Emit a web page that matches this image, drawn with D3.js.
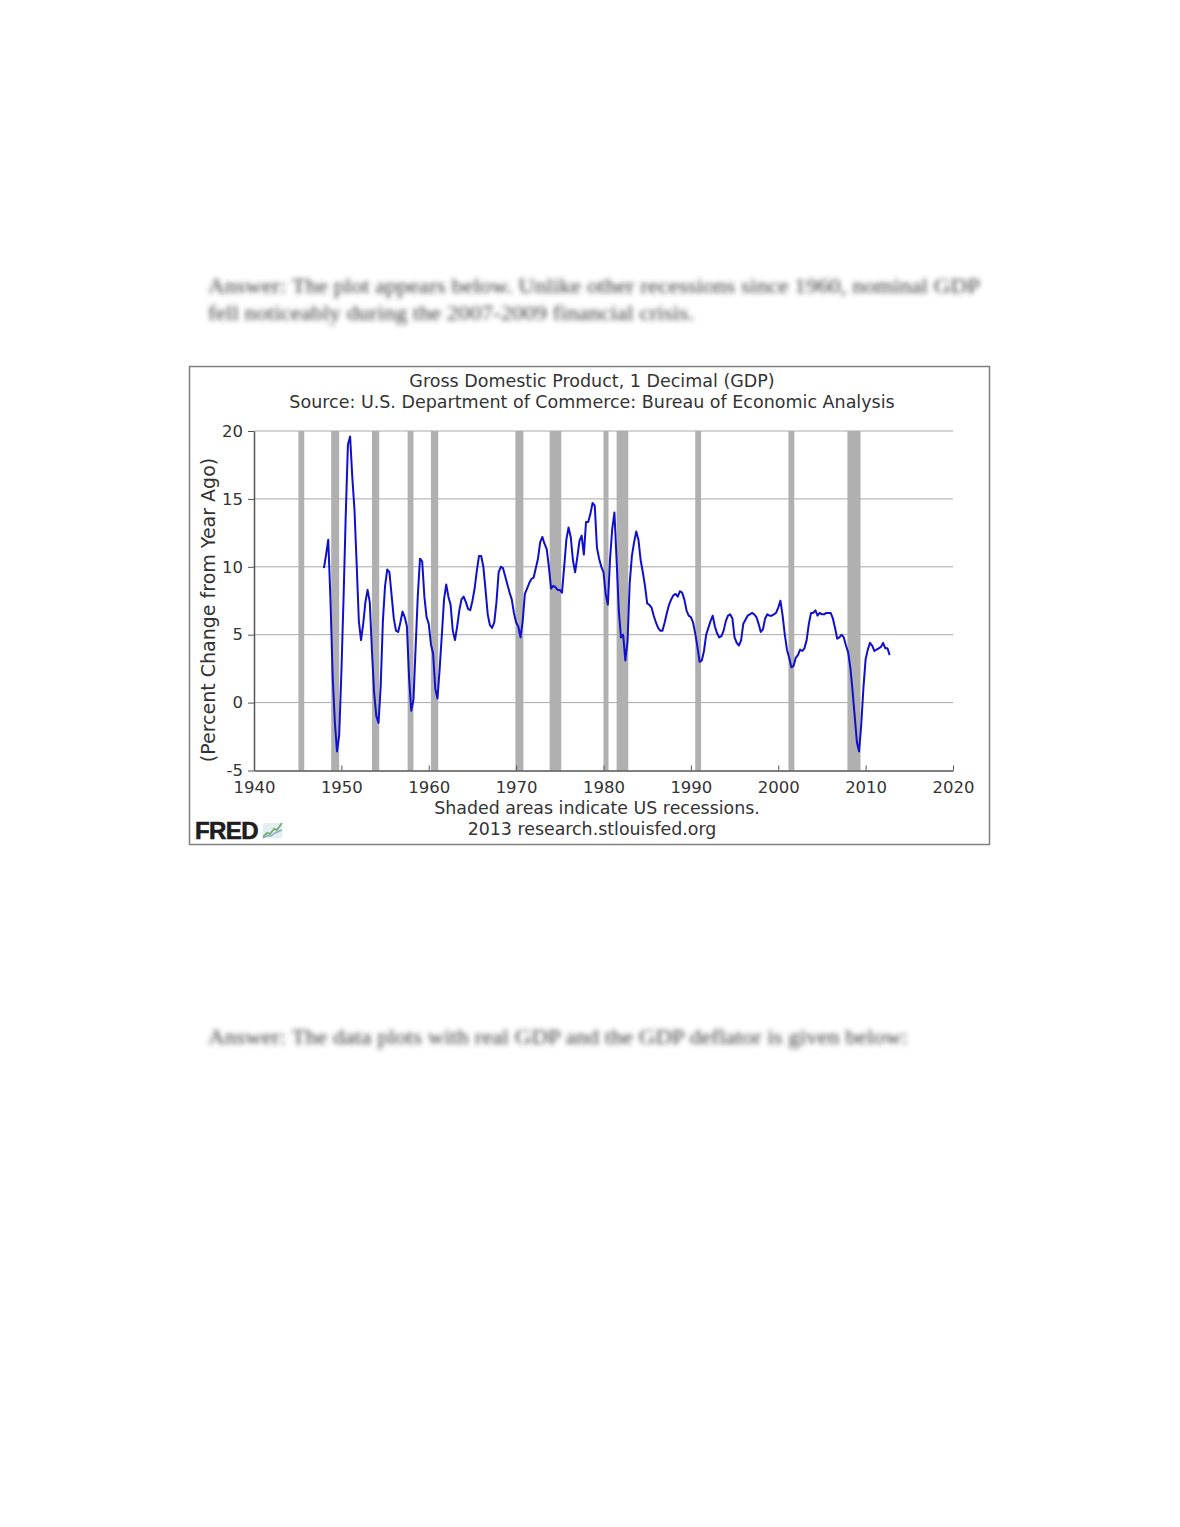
<!DOCTYPE html>
<html>
<head>
<meta charset="utf-8">
<script src="https://cdn.jsdelivr.net/npm/d3@7"></script>
<style>
  body { margin: 0; background: #ffffff; }
  svg text { font-family: "DejaVu Sans", Verdana, sans-serif; }
</style>
</head>
<body>
<script>
'use strict';

// GDP, percent change from year ago, quarterly from 1948Q1
const firstYear = 1948;
const gdpChange = [
  9.9, 10.9, 12.0, 7.6,    2.0, -1.4, -3.6, -2.4,   // 1948-49
  2.2, 7.7, 13.8, 19.0,    19.6, 16.6, 14.2, 10.2,  // 1950-51
  6.0, 4.6, 5.8, 7.4,      8.3, 7.4, 3.8, 0.7,      // 1952-53
  -1.0, -1.5, 1.2, 6.0,    8.6, 9.8, 9.6, 7.9,      // 1954-55
  6.2, 5.3, 5.2, 5.9,      6.7, 6.3, 5.6, 1.8,      // 1956-57
  -0.6, 0.2, 4.1, 7.9,     10.6, 10.4, 7.8, 6.3,    // 1958-59
  5.8, 4.3, 3.6, 1.0,      0.3, 2.5, 5.0, 7.6,      // 1960-61
  8.7, 7.8, 7.2, 5.3,      4.6, 5.6, 6.8, 7.6,      // 1962-63
  7.8, 7.4, 6.9, 6.8,      7.5, 8.4, 9.7, 10.8,     // 1964-65
  10.8, 10.0, 8.3, 6.5,    5.7, 5.5, 5.9, 7.4,      // 1966-67
  9.6, 10.0, 9.9, 9.3,     8.7, 8.1, 7.6, 6.6,      // 1968-69
  5.9, 5.6, 4.8, 6.0,      8.0, 8.4, 8.8, 9.1,      // 1970-71
  9.2, 9.9, 10.6, 11.8,    12.2, 11.7, 11.3, 10.0,  // 1972-73
  8.4, 8.6, 8.5, 8.3,      8.3, 8.1, 10.0, 12.0,    // 1974-75
  12.9, 12.2, 10.5, 9.6,   10.7, 11.9, 12.3, 10.9,  // 1976-77
  13.3, 13.3, 13.9, 14.7,  14.5, 11.4, 10.6, 10.0,  // 1978-79
  9.6, 8.0, 7.2, 10.6,     12.8, 14.0, 10.5, 6.8,   // 1980-81
  4.8, 5.0, 3.1, 4.5,      8.8, 10.8, 11.8, 12.6,   // 1982-83
  12.0, 10.5, 9.6, 8.6,    7.3, 7.2, 7.0, 6.4,      // 1984-85
  5.9, 5.5, 5.3, 5.3,      5.9, 6.6, 7.2, 7.6,      // 1986-87
  7.9, 8.0, 7.8, 8.2,      8.1, 7.6, 6.8, 6.4,      // 1988-89
  6.3, 5.9, 5.1, 4.1,      3.0, 3.1, 3.8, 5.0,      // 1990-91
  5.5, 6.0, 6.4, 5.6,      5.1, 4.8, 4.9, 5.3,      // 1992-93
  6.0, 6.4, 6.5, 6.2,      4.8, 4.4, 4.2, 4.6,      // 1994-95
  5.8, 6.1, 6.4, 6.5,      6.6, 6.5, 6.3, 5.8,      // 1996-97
  5.2, 5.4, 6.2, 6.5,      6.4, 6.4, 6.5, 6.6,      // 1998-99
  7.0, 7.5, 6.4, 5.0,      3.9, 3.3, 2.6, 2.7,      // 2000-01
  3.3, 3.5, 3.9, 3.8,      4.0, 4.6, 5.8, 6.6,      // 2002-03
  6.6, 6.8, 6.4, 6.6,      6.5, 6.5, 6.6, 6.6,      // 2004-05
  6.6, 6.2, 5.5, 4.7,      4.8, 5.0, 4.8, 4.2,      // 2006-07
  3.7, 2.6, 0.9, -1.0,     -2.9, -3.6, -1.6, 1.1,   // 2008-09
  3.2, 3.9, 4.4, 4.2,      3.8, 3.9, 4.0, 4.1,      // 2010-11
  4.4, 4.0, 4.0, 3.5                                // 2012
];

// NBER recessions, peak month to trough month
const recessionStart = ['1945-02', '1948-11', '1953-07', '1957-08', '1960-04', '1969-12',
                        '1973-11', '1980-01', '1981-07', '1990-07', '2001-03', '2007-12'];
const recessionEnd   = ['1945-10', '1949-10', '1954-05', '1958-04', '1961-02', '1970-11',
                        '1975-03', '1980-07', '1982-11', '1991-03', '2001-11', '2009-06'];

const xTicks = [1940, 1950, 1960, 1970, 1980, 1990, 2000, 2010, 2020];
const yTicks = [-5, 0, 5, 10, 15, 20];

const titleLines = ['Gross Domestic Product, 1 Decimal (GDP)',
                    'Source: U.S. Department of Commerce: Bureau of Economic Analysis'];
const footLines = ['Shaded areas indicate US recessions.', '2013 research.stlouisfed.org'];
const yLabel = '(Percent Change from Year Ago)';

const W = 1180, H = 1527;
const plot = { left: 254, right: 953, top: 431, bottom: 770.5 };

const svg = d3.select('body').append('svg')
  .attr('width', W).attr('height', H)
  .attr('viewBox', `0 0 ${W} ${H}`);
svg.append('rect').attr('width', W).attr('height', H).attr('fill', '#ffffff');

// blurred page text around the figure
const defs = svg.append('defs');
defs.append('filter').attr('id', 'blur')
  .attr('x', '-5%').attr('y', '-50%').attr('width', '110%').attr('height', '200%')
  .append('feGaussianBlur').attr('stdDeviation', 2.4);

const pageText = [
  { t: 'Answer: The plot appears below. Unlike other recessions since 1960, nominal GDP', y: 293, w: 772 },
  { t: 'fell noticeably during the 2007-2009 financial crisis.', y: 320, w: 486 },
  { t: 'Answer: The data plots with real GDP and the GDP deflator is given below:', y: 1044, w: 700 }
];
svg.append('g').attr('filter', 'url(#blur)')
  .selectAll('text').data(pageText).join('text')
  .attr('x', 208).attr('y', d => d.y)
  .attr('textLength', d => d.w).attr('lengthAdjust', 'spacingAndGlyphs')
  .style('font-family', '"Liberation Serif", "Times New Roman", serif')
  .style('font-size', '20px')
  .attr('fill', '#3a3a3a')
  .text(d => d.t);

// figure frame
svg.append('rect')
  .attr('x', 189.5).attr('y', 366.5).attr('width', 800).attr('height', 478)
  .attr('fill', '#ffffff').attr('stroke', '#808080').attr('stroke-width', 1.5);

const x = d3.scaleLinear().domain([1940, 2020]).range([plot.left, plot.right]);
const y = d3.scaleLinear().domain([-5, 20]).range([plot.bottom, plot.top]);

const toYear = s => { const [yy, mm] = s.split('-').map(Number); return yy + (mm - 1) / 12; };
const recessions = recessionStart.map((s, i) => ({ a: toYear(s), b: toYear(recessionEnd[i]) }));
const series = gdpChange.map((v, i) => ({ t: firstYear + i / 4, v }));

// grid
svg.append('g').selectAll('line').data(yTicks.filter(v => v > -5)).join('line')
  .attr('x1', plot.left).attr('x2', plot.right)
  .attr('y1', d => y(d)).attr('y2', d => y(d))
  .attr('stroke', '#a8a8a8').attr('stroke-width', 1);

// recession shading
svg.append('g').selectAll('rect').data(recessions).join('rect')
  .attr('x', d => x(d.a)).attr('width', d => Math.max(x(d.b) - x(d.a), 5))
  .attr('y', plot.top).attr('height', plot.bottom - plot.top)
  .attr('fill', '#b0b0b0');

// axes
const axisY = svg.append('g').attr('transform', `translate(${plot.left},0)`)
  .call(d3.axisLeft(y).tickValues(yTicks).tickFormat(d => String(d))
    .tickSize(6).tickSizeOuter(0).tickPadding(5));
const axisX = svg.append('g').attr('transform', `translate(0,${plot.bottom})`)
  .call(d3.axisBottom(x).tickValues(xTicks).tickFormat(d => String(d))
    .tickSize(-5).tickSizeOuter(0).tickPadding(11));
[axisY, axisX].forEach(g => {
  g.select('.domain').attr('stroke', '#555555').attr('stroke-width', 1.5);
  g.selectAll('.tick line').attr('stroke', '#555555');
  g.selectAll('.tick text').attr('fill', '#333333')
    .style('font-family', '"DejaVu Sans", Verdana, sans-serif').style('font-size', '16.5px');
});

// data line
svg.append('path').datum(series)
  .attr('fill', 'none').attr('stroke', '#1010cc').attr('stroke-width', 2)
  .attr('stroke-linejoin', 'round')
  .attr('d', d3.line().x(d => x(d.t)).y(d => y(d.v)));

// titles and notes
svg.append('g').selectAll('text').data(titleLines).join('text')
  .attr('x', 592).attr('y', (d, i) => 387 + i * 21)
  .attr('text-anchor', 'middle').attr('fill', '#333333').style('font-size', '17.5px')
  .text(d => d);
svg.append('g').selectAll('text').data(footLines).join('text')
  .attr('x', (d, i) => i ? 592 : 597).attr('y', (d, i) => 814 + i * 21)
  .attr('text-anchor', 'middle').attr('fill', '#333333').style('font-size', '17.4px')
  .text(d => d);
svg.append('text')
  .attr('transform', `translate(215,610) rotate(-90)`)
  .attr('text-anchor', 'middle').attr('fill', '#333333').style('font-size', '19px')
  .text(yLabel);

// FRED mark
const logo = svg.append('g');
logo.append('text').attr('x', 195).attr('y', 839)
  .style('font-family', '"Liberation Sans", Arial, sans-serif').style('font-weight', 'bold')
  .style('font-size', '24px').attr('letter-spacing', -0.6).attr('fill', '#1e1e1e')
  .attr('stroke', '#1e1e1e').attr('stroke-width', 0.6)
  .text('FRED');
logo.append('rect').attr('x', 263).attr('y', 823).attr('width', 19).attr('height', 15)
  .attr('fill', '#e3eef0');
logo.append('path').attr('d', 'M263,837 L267,833 L270,834 L274,829 L277,830 L282,823')
  .attr('fill', 'none').attr('stroke', '#7bb07f').attr('stroke-width', 2);
logo.append('path').attr('d', 'M263,838 L267,836 L271,836 L275,833 L282,830')
  .attr('fill', 'none').attr('stroke', '#8fb0c8').attr('stroke-width', 1.5);
</script>
</body>
</html>
